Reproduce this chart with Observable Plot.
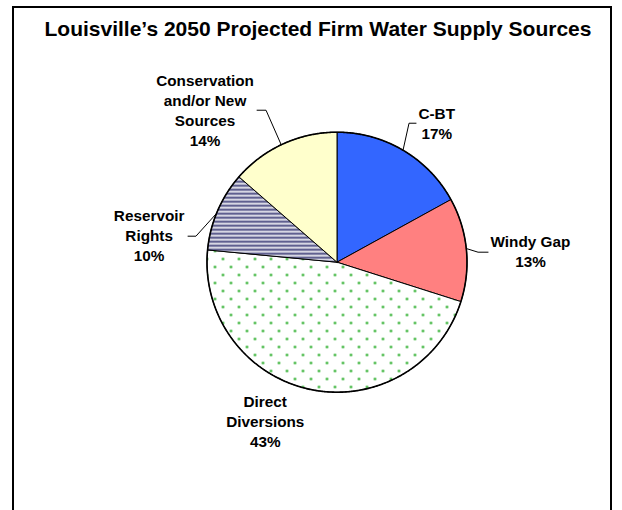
<!DOCTYPE html>
<html><head><meta charset="utf-8">
<script src="https://cdn.jsdelivr.net/npm/d3@7"></script>
<script src="https://cdn.jsdelivr.net/npm/@observablehq/plot@0.6"></script>
<style>
body{margin:0;background:#fff;font-family:"Liberation Sans",Arial,sans-serif;}
#wrap{position:relative;width:622px;height:510px;overflow:hidden;}
#chart{position:absolute;left:0;top:0;}
#frame{position:absolute;left:12px;top:6px;width:596px;height:520px;border:2px solid #000;border-bottom:none;}
#title{position:absolute;left:18px;width:600px;top:17px;text-align:center;font-weight:bold;font-size:21px;line-height:24px;color:#000;}
</style></head><body>
<div id="wrap"><div id="chart"></div><div id="frame"></div><div id="title">Louisville’s 2050 Projected Firm Water Supply Sources</div></div>
<script>
// ---- data ----
const categories = ["C-BT", "Windy Gap", "Direct Diversions", "Reservoir Rights", "Conservation and/or New Sources"];
const shares = [17, 12.9, 46.6, 9.9, 13.6];            // slice sizes
const percentLabels = ["17%", "13%", "43%", "10%", "14%"]; // printed labels
const labelLines = ["C-BT", "Windy Gap", "Direct\nDiversions", "Reservoir\nRights", "Conservation\nand/or New\nSources"];

// ---- styles / layout (pie-radius units) ----
const fills = ["#3366ff", "#ff8080", "url(#dots)", "url(#stripes)", "#ffffcc"];
const labelAt = [[0.767, 0.95], [1.488, -0.038], [-0.552, -1.423], [-1.445, 0.008], [-1.015, 0.896]];
const leaders = [
  [[0.608, 1.069], [0.554, 1.069], [0.508, 0.862]],
  [[1.162, 0.077], [1.085, 0.077], [0.995, 0.105]],
  [],
  [[-1.146, 0.2], [-1.085, 0.2], [-0.927, 0.375]],
  [[-0.615, 1.169], [-0.546, 1.169], [-0.429, 0.903]]
];

const arcs = d3.pie().sort(null).value(d => d)(shares);
const slicePts = [];
const rimPts = [];
arcs.forEach((a, i) => {
  const n = Math.max(2, Math.ceil((a.endAngle - a.startAngle) / (Math.PI / 360)));
  slicePts.push({i, x: 0, y: 0});
  for (let k = 0; k <= n; k++) {
    const t = a.startAngle + (a.endAngle - a.startAngle) * k / n;
    const p = {i, x: Math.sin(t), y: Math.cos(t)};
    slicePts.push(p);
    rimPts.push(p);
  }
  slicePts.push({i, x: 0, y: 0});
});

const labels = categories.map((c, i) => ({
  text: labelLines[i] + "\n" + percentLabels[i],
  x: labelAt[i][0], y: labelAt[i][1]
}));
const leaderPts = leaders.flatMap((pts, i) => pts.map(p => ({i, x: p[0], y: p[1]})));

const sliceMarks = arcs.map((a, i) =>
  Plot.line(slicePts.filter(d => d.i === i), {x: "x", y: "y", fill: fills[i], stroke: "#000", strokeWidth: 1, strokeLinejoin: "round"})
);

const svg = Plot.plot({
  width: 622, height: 510, margin: 0,
  style: {background: "transparent"},
  x: {domain: [-1, 1], range: [206.5, 466.5], axis: null},
  y: {domain: [-1, 1], range: [391.7, 131.7], axis: null},
  marks: [
    ...sliceMarks,
    Plot.line(rimPts, {x: "x", y: "y", stroke: "#000", strokeWidth: 1.6}),
    Plot.line(leaderPts, {x: "x", y: "y", z: "i", stroke: "#000", strokeWidth: 1}),
    Plot.text(labels, {x: "x", y: "y", text: "text", fontSize: 15.3, fontWeight: "bold",
      fontFamily: "Liberation Sans, Arial, sans-serif", lineAnchor: "bottom", lineHeight: 1.31, fill: "#000"})
  ]
});

const defs = d3.select(svg).insert("defs", ":first-child");
const dots = defs.append("pattern").attr("id", "dots").attr("patternUnits", "userSpaceOnUse")
  .attr("width", 16).attr("height", 16);
dots.append("rect").attr("width", 16).attr("height", 16).attr("fill", "#fff");
dots.append("circle").attr("cx", 14.5).attr("cy", 2.5).attr("r", 1.3).attr("fill", "#22aa22");
dots.append("circle").attr("cx", 6.5).attr("cy", 10.5).attr("r", 1.3).attr("fill", "#22aa22");
const stripes = defs.append("pattern").attr("id", "stripes").attr("patternUnits", "userSpaceOnUse")
  .attr("width", 8).attr("height", 4);
stripes.append("rect").attr("width", 8).attr("height", 4).attr("fill", "#fff");
stripes.append("rect").attr("width", 8).attr("height", 2.5).attr("fill", "#606090");

document.getElementById("chart").appendChild(svg);
</script>
</body></html>
